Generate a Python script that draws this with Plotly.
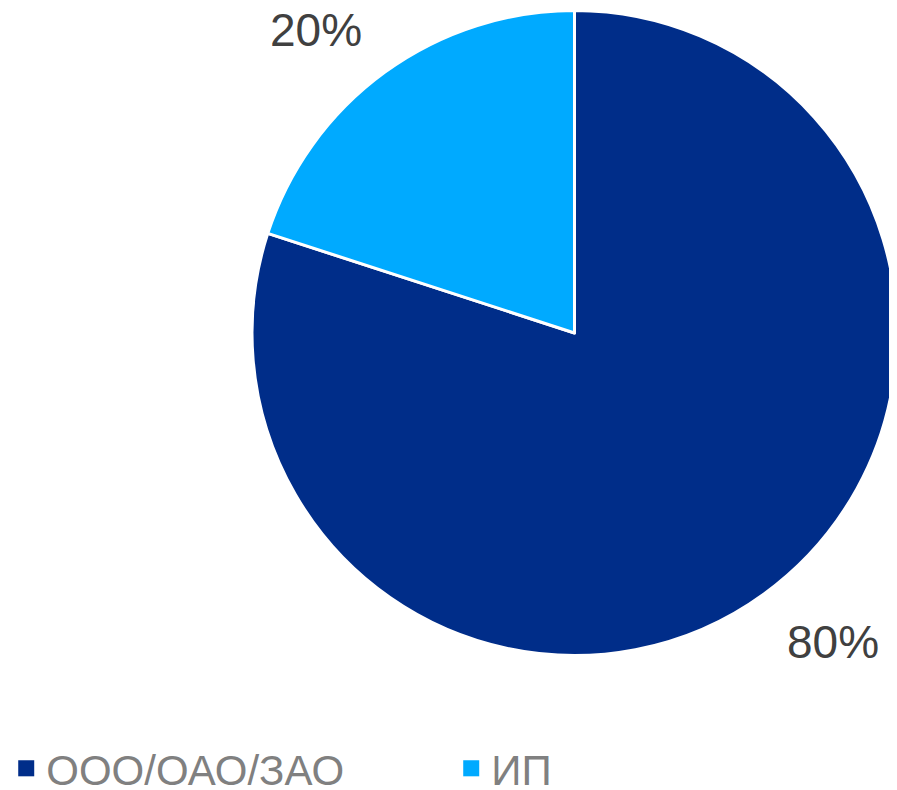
import math
import plotly.graph_objects as go

labels = ["ООО/ОАО/ЗАО", "ИП"]
values = [80, 20]
colors = ["#002D89", "#00AAFF"]
text_labels = ["80%", "20%"]

# page places the figure 8px in from the top-left corner (body margin)
OFF = 8
W, H = 897 - OFF, 790 - OFF

# pie box in picture pixels (left, top, right, bottom)
box_l, box_t, box_r, box_b = 252 - OFF, 10 - OFF, 897 - OFF, 656 - OFF
cx = (box_l + box_r) / 2
cy = (box_t + box_b) / 2

fig = go.Figure(go.Pie(
    labels=labels,
    values=values,
    textinfo="none",
    sort=False,
    direction="clockwise",
    rotation=0,
    marker=dict(colors=colors, line=dict(color="white", width=3)),
    domain=dict(x=[box_l / W, min(box_r / W, 1.0)], y=[1 - box_b / H, 1 - box_t / H]),
    hoverinfo="label+percent",
    showlegend=False,
))

# legend entries as square markers
for lab, col in zip(labels, colors):
    fig.add_trace(go.Scatter(
        x=[None], y=[None], mode="markers", name=lab,
        marker=dict(symbol="square", size=17, color=col),
        showlegend=True, hoverinfo="skip",
    ))

# outside labels placed along each slice's mid-angle
total = sum(values)
r_lab = 361
half_w, half_h = 46, 14
y_shift = 3
cum = 0
for v, t in zip(values, text_labels):
    mid = (cum + v / 2) / total * 2 * math.pi
    cum += v
    dx, dy = math.sin(mid), -math.cos(mid)  # clockwise from top, screen coords
    px = cx + r_lab * dx + math.copysign(half_w, dx)
    py = cy + r_lab * dy + math.copysign(half_h, dy) + y_shift
    fig.add_annotation(
        x=px / W, y=1 - py / H, xref="paper", yref="paper",
        text=t, showarrow=False, xanchor="center", yanchor="middle",
        font=dict(family="Liberation Sans, Arial, sans-serif", size=46, color="#404040"),
    )

fig.update_layout(
    width=W, height=H,
    margin=dict(l=0, r=0, t=0, b=0, autoexpand=False),
    paper_bgcolor="white",
    plot_bgcolor="white",
    font=dict(family="Liberation Sans, Arial, sans-serif"),
    xaxis=dict(visible=False),
    yaxis=dict(visible=False),
    showlegend=True,
    legend=dict(
        orientation="h",
        x=-0.002, xanchor="left",
        y=-0.016, yanchor="bottom",
        font=dict(size=42, color="#808080"),
        entrywidth=400, entrywidthmode="pixels",
        itemsizing="trace",
    ),
)

fig.write_html("out.html")
